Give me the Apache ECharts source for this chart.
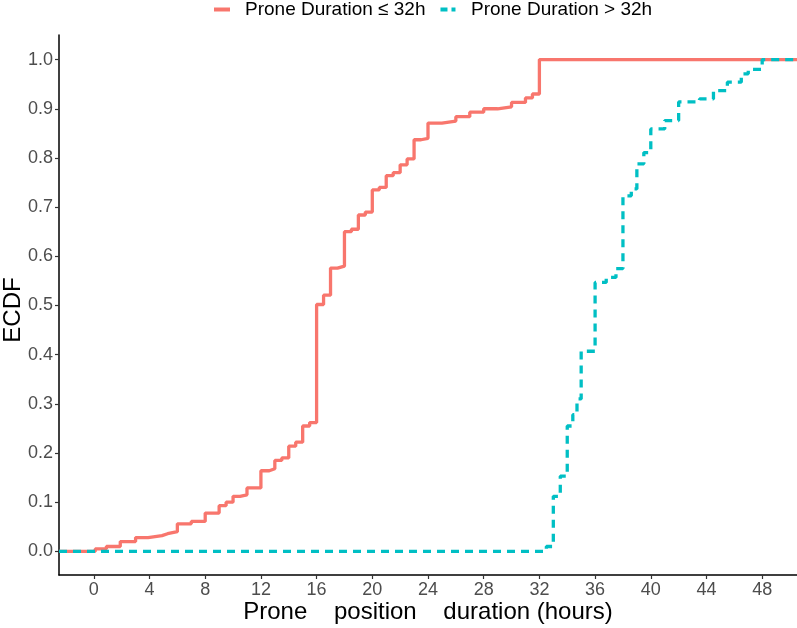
<!DOCTYPE html>
<html>
<head>
<meta charset="utf-8">
<style>html,body{margin:0;padding:0;background:#fff;}#chart{width:797px;height:628px;}</style>
<script src="https://cdn.jsdelivr.net/npm/echarts@6/dist/echarts.min.js"></script>
</head>
<body>
<div id="chart"></div>
<script>
// ECDF step points (x = duration in hours, y = cumulative proportion after the step)
var redName = "Prone Duration \u2264 32h";
var blueName = "Prone Duration > 32h";
var redX = [-2.5, 0.1, 0.9, 1.9, 3.0, 3.9, 4.9, 5.3, 6.0, 7.0, 8.0, 9.0, 9.5, 10.0, 10.5, 11.0, 12.0, 12.6, 13.0, 13.5, 14.0, 14.5, 15.0, 15.5, 16.0, 16.5, 17.0, 17.5, 18.0, 18.5, 19.0, 19.5, 20.0, 20.5, 21.0, 21.5, 22.0, 22.5, 23.0, 23.5, 24.0, 25.0, 26.0, 27.0, 28.0, 29.0, 30.0, 31.0, 31.5, 32.0, 50.5];
var redY = [0, 0.005, 0.01, 0.02, 0.028, 0.032, 0.036, 0.04, 0.056, 0.061, 0.078, 0.093, 0.10, 0.112, 0.115, 0.129, 0.164, 0.168, 0.185, 0.19, 0.214, 0.222, 0.255, 0.262, 0.502, 0.521, 0.576, 0.58, 0.650, 0.655, 0.684, 0.69, 0.735, 0.74, 0.764, 0.77, 0.786, 0.798, 0.837, 0.84, 0.871, 0.875, 0.884, 0.893, 0.90, 0.904, 0.913, 0.922, 0.930, 1.0, 1.0];
var blueX = [-2.5, 32.5, 33.0, 33.5, 34.0, 34.4, 34.7, 35.0, 36.0, 36.8, 37.5, 38.0, 38.6, 39.0, 39.5, 40.0, 41.0, 42.0, 43.5, 44.5, 45.5, 46.5, 47.0, 48.0, 50.5];
var blueY = [0, 0.01, 0.112, 0.153, 0.255, 0.278, 0.31, 0.407, 0.547, 0.557, 0.575, 0.723, 0.737, 0.788, 0.811, 0.859, 0.876, 0.914, 0.92, 0.937, 0.954, 0.971, 0.98, 1.0, 1.0];
var xTicks = [0, 4, 8, 12, 16, 20, 24, 28, 32, 36, 40, 44, 48];
var yTicks = [0, 0.1, 0.2, 0.3, 0.4, 0.5, 0.6, 0.7, 0.8, 0.9, 1.0];
var xTitle = "Prone    position    duration (hours)";
var yTitle = "ECDF";

function pairs(xs, ys) { return xs.map(function (x, i) { return [x, ys[i]]; }); }

var font = "'Liberation Sans', Arial, sans-serif";
var chart = echarts.init(document.getElementById('chart'), null, { renderer: 'canvas' });
chart.setOption({
  animation: false,
  backgroundColor: '#ffffff',
  textStyle: { fontFamily: font },
  legend: {
    left: 209, top: -5,
    itemWidth: 16, itemHeight: 4, itemGap: 15,
    textStyle: { fontSize: 19, color: '#000', fontFamily: font, padding: [0, 0, 0, 10] },
    data: [
      { name: redName, icon: 'rect', itemStyle: { color: '#F8766D' } },
      { name: blueName, icon: 'path://M0,0h7v4h-7z M11,0h4v4h-4z', itemStyle: { color: '#00BFC4' } }
    ]
  },
  graphic: [
    { type: 'text', x: 428, y: 612, silent: true,
      style: { text: xTitle, fill: '#000', font: '24px ' + font, textAlign: 'center', textVerticalAlign: 'middle' } },
    { type: 'text', x: 13, y: 310, rotation: Math.PI / 2, silent: true,
      style: { text: yTitle, fill: '#000', font: '24px ' + font, textAlign: 'center', textVerticalAlign: 'middle' } }
  ],
  grid: { left: 59, right: 0, top: 35, bottom: 53, containLabel: false, outerBoundsMode: 'none' },
  xAxis: {
    type: 'value', min: -2.5, max: 50.5,
    axisLine: { show: true, onZero: false, lineStyle: { color: '#000', width: 1.5 } },
    axisTick: { show: true, length: 4, customValues: xTicks, lineStyle: { color: '#333', width: 1.2 } },
    axisLabel: { customValues: xTicks, fontSize: 18, color: '#4D4D4D', margin: 6, fontFamily: font },
    splitLine: { show: false }
  },
  yAxis: {
    type: 'value', min: -0.048, max: 1.05,
    axisLine: { show: true, onZero: false, lineStyle: { color: '#000', width: 1.5 } },
    axisTick: { show: true, length: 4, customValues: yTicks, lineStyle: { color: '#333', width: 1.2 } },
    axisLabel: { customValues: yTicks, fontSize: 18, color: '#4D4D4D', margin: 6, fontFamily: font,
      formatter: function (v) { return v.toFixed(1); } },
    splitLine: { show: false }
  },
  series: [
    { name: redName, type: 'line', step: 'end', showSymbol: false, symbol: 'none',
      data: pairs(redX, redY), itemStyle: { color: '#F8766D' },
      lineStyle: { color: '#F8766D', width: 3.3, type: 'solid' }, z: 2 },
    { name: blueName, type: 'line', step: 'end', showSymbol: false, symbol: 'none',
      data: pairs(blueX, blueY), itemStyle: { color: '#00BFC4' },
      lineStyle: { color: '#00BFC4', width: 3.3, type: [8, 6] }, z: 3 }
  ]
});
</script>
</body>
</html>
